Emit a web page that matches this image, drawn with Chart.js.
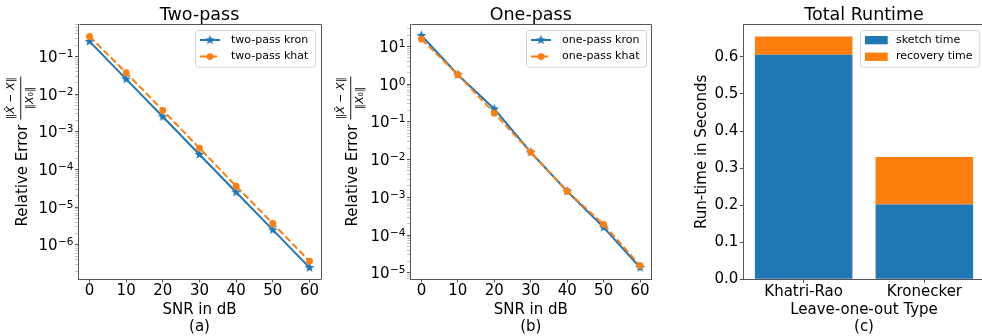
<!DOCTYPE html>
<html>
<head>
<meta charset="utf-8">
<script src="https://cdn.jsdelivr.net/npm/chart.js@4.4.1/dist/chart.umd.min.js"></script>
<style>
  html, body { margin: 0; padding: 0; background: #fff; overflow: hidden; width: 982px; height: 336px; }
  canvas { position: absolute; top: 0; }
</style>
</head>
<body>
<canvas id="twoPass" width="330" height="336" style="left:0px"></canvas>
<canvas id="onePass" width="330" height="336" style="left:330px"></canvas>
<canvas id="runtime" width="330" height="336" style="left:660px"></canvas>
<script>
// data
const snr = [0, 10, 20, 30, 40, 50, 60];
const twoPassKron = [0.25, 0.025, 0.0025, 2.5e-4, 2.5e-5, 2.5e-6, 2.5e-7];
const twoPassKhat = [0.34, 0.037, 0.0037, 3.7e-4, 3.6e-5, 3.7e-6, 3.7e-7];
const onePassKron = [19.5, 1.78, 0.22, 0.0157, 1.45e-3, 1.6e-4, 1.38e-5];
const onePassKhat = [15.6, 1.78, 0.17, 0.0157, 1.45e-3, 1.92e-4, 1.55e-5];
const loaTypes = ["Khatri-Rao", "Kronecker"];
const sketchTime = [0.606, 0.202];
const recoveryTime = [0.049, 0.128];

const BLUE = "#1f77b4";
const ORANGE = "#ff7f0e";
const AXIS = "#555";
const FONT = "'DejaVu Sans'";

Chart.defaults.font.family = FONT + ", sans-serif";
Chart.defaults.color = "#000";

function makeStar(color, r) {
  const c = document.createElement("canvas");
  const s = Math.ceil(r * 2 + 2);
  c.width = s; c.height = s;
  const g = c.getContext("2d");
  g.translate(s / 2, s / 2);
  g.beginPath();
  for (let k = 0; k < 10; k++) {
    const rad = k % 2 === 0 ? r : r * 0.42;
    const a = -Math.PI / 2 + k * Math.PI / 5;
    g.lineTo(rad * Math.cos(a), rad * Math.sin(a));
  }
  g.closePath();
  g.fillStyle = color;
  g.fill();
  return c;
}
const starImg = makeStar(BLUE, 5.2);

function isPow10(v) {
  const e = Math.log10(v);
  return Math.abs(e - Math.round(e)) < 1e-9;
}

// frame on top/right like matplotlib's box
const frame = {
  id: "frame",
  afterDraw(chart) {
    const { ctx, chartArea: a } = chart;
    ctx.save();
    ctx.strokeStyle = AXIS;
    ctx.lineWidth = 1;
    ctx.beginPath();
    ctx.moveTo(Math.round(a.left) + 0.5, Math.round(a.top) + 0.5);
    ctx.lineTo(Math.round(a.right) + 0.5, Math.round(a.top) + 0.5);
    ctx.lineTo(Math.round(a.right) + 0.5, Math.round(a.bottom) + 0.5);
    ctx.stroke();
    ctx.restore();
  }
};

// 10^n labels with a real raised exponent, drawn at the scale's tick pixels
const powTicks = {
  id: "powTicks",
  afterDraw(chart) {
    const { ctx, chartArea: a } = chart;
    const scale = chart.scales.y;
    const xr = a.left - 3.5 - 1.5;
    ctx.save();
    ctx.fillStyle = "#000";
    ctx.textAlign = "right";
    ctx.textBaseline = "alphabetic";
    scale.ticks.forEach(t => {
      if (!isPow10(t.value)) return;
      const e = Math.round(Math.log10(t.value));
      const py = scale.getPixelForValue(t.value);
      const exp = String(e).replace("-", "\u2212");
      ctx.font = "10.5px " + FONT;
      const ew = ctx.measureText(exp).width;
      ctx.fillText(exp, xr, py + 0.5);
      ctx.font = "15px " + FONT;
      ctx.fillText("10", xr - ew - 0.5, py + 5.5);
    });
    ctx.restore();
  }
};

// legend box inside the axes, upper right
const boxLegend = {
  id: "boxLegend",
  afterDatasetsDraw(chart, args, opts) {
    const { ctx, chartArea: a } = chart;
    const w = opts.width || 120, h = 36.7;
    const x = Math.round(a.right - 5.5 - w), y = Math.round(a.top + 6);
    ctx.save();
    ctx.fillStyle = "rgba(255,255,255,0.85)";
    ctx.strokeStyle = "#d2d2d2";
    ctx.lineWidth = 1;
    ctx.beginPath();
    ctx.roundRect(x + 0.5, y + 0.5, w, h, 3);
    ctx.fill();
    ctx.stroke();
    chart.data.datasets.forEach((ds, i) => {
      const cy = y + 10 + i * 16.6;
      if (opts.bars) {
        ctx.fillStyle = ds.backgroundColor;
        ctx.fillRect(x + 5, cy - 4, 22.7, 8.3);
      } else {
        ctx.strokeStyle = ds.borderColor;
        ctx.lineWidth = ds.borderWidth;
        ctx.setLineDash(ds.borderDash || []);
        ctx.beginPath();
        ctx.moveTo(x + 5, cy);
        ctx.lineTo(x + 25, cy);
        ctx.stroke();
        ctx.setLineDash([]);
        if (ds.pointStyle instanceof HTMLCanvasElement) {
          ctx.drawImage(ds.pointStyle, x + 15 - ds.pointStyle.width / 2, cy - ds.pointStyle.height / 2);
        } else {
          ctx.fillStyle = ds.pointBackgroundColor;
          ctx.beginPath();
          ctx.arc(x + 15, cy, ds.pointRadius, 0, Math.PI * 2);
          ctx.fill();
        }
      }
      ctx.fillStyle = "#000";
      ctx.font = "11px " + FONT;
      ctx.textAlign = "left";
      ctx.textBaseline = "middle";
      ctx.fillText(ds.label, x + 36, cy);
    });
    ctx.restore();
  }
};

// "Relative Error ||X^-X|| / ||X0||" rotated y label
function drawSegs(ctx, segs, cu, v) {
  let total = 0;
  segs.forEach(s => { ctx.font = s[1]; total += ctx.measureText(s[0]).width; });
  let u = cu - total / 2;
  segs.forEach(s => {
    ctx.font = s[1];
    ctx.fillText(s[0], u, v);
    u += ctx.measureText(s[0]).width;
  });
}
const relErrLabel = {
  id: "relErrLabel",
  afterDraw(chart) {
    const { ctx, chartArea: a } = chart;
    const cy = (a.top + a.bottom) / 2;
    ctx.save();
    ctx.translate(0, cy);
    ctx.rotate(-Math.PI / 2);
    ctx.fillStyle = "#000";
    ctx.textAlign = "left";
    ctx.textBaseline = "alphabetic";
    ctx.font = "15px " + FONT;
    const main = "Relative Error";
    const mw = ctx.measureText(main).width;
    const fracW = 43, gap = 5;
    const u0 = -(mw + gap + fracW) / 2;
    ctx.fillText(main, u0, 26.5);
    const fu = u0 + mw + gap;
    ctx.fillRect(fu, 20.3, fracW, 0.9);
    const up = "11px " + FONT, it = "italic 11px " + FONT;
    drawSegs(ctx, [["\u2016", up], ["X\u0302", it], [" \u2212 ", up], ["X", it], ["\u2016", up]], fu + fracW / 2, 14);
    drawSegs(ctx, [["\u2016", up], ["X", it], ["\u2080", up], ["\u2016", up]], fu + fracW / 2, 33);
    ctx.restore();
  }
};

function lineChart(id, title, sub, kron, khat, names, yMin, yMax, yWidth, padRight) {
  const kronPts = snr.map((x, i) => ({ x: x, y: kron[i] }));
  const khatPts = snr.map((x, i) => ({ x: x, y: khat[i] }));
  return new Chart(document.getElementById(id), {
    type: "line",
    data: {
      datasets: [
        {
          label: names[0], data: kronPts, borderColor: BLUE, backgroundColor: BLUE,
          borderWidth: 2, pointStyle: starImg, pointRadius: 5, order: 1
        },
        {
          label: names[1], data: khatPts, borderColor: ORANGE, backgroundColor: ORANGE,
          pointBackgroundColor: ORANGE, pointBorderWidth: 0, borderWidth: 2,
          borderDash: [7, 3], pointStyle: "circle", pointRadius: 3.4, order: 0
        }
      ]
    },
    options: {
      responsive: false,
      animation: false,
      devicePixelRatio: 1,
      layout: { padding: { left: 0, right: padRight, top: 0, bottom: 0 } },
      plugins: {
        legend: { display: false },
        tooltip: { enabled: false },
        title: {
          display: true, text: title, color: "#000", fullSize: false,
          font: { size: 17.5, weight: "normal", lineHeight: 1 },
          padding: { top: 6.5, bottom: 0 }
        },
        boxLegend: { width: 120 }
      },
      scales: {
        x: {
          type: "linear", min: -3, max: 63, bounds: "data",
          afterBuildTicks: s => { s.ticks = snr.map(v => ({ value: v })); },
          afterFit: s => { s.height = 57; },
          grid: { drawOnChartArea: false, tickLength: 3.5, tickColor: AXIS },
          border: { color: AXIS, width: 1 },
          ticks: { font: { size: 15 }, padding: 0, maxRotation: 0, autoSkip: false },
          title: {
            display: true, text: ["SNR in dB", sub], color: "#000",
            font: { size: 15, lineHeight: 1.15 }, padding: { top: 0, bottom: 0 }
          }
        },
        y: {
          type: "logarithmic", min: yMin, max: yMax, bounds: "data",
          afterBuildTicks: s => {
            const lo = Math.floor(Math.log10(s.min)), hi = Math.ceil(Math.log10(s.max));
            const t = [];
            for (let e = lo; e <= hi; e++) {
              for (let k = 1; k < 10; k++) {
                const v = k * Math.pow(10, e);
                if (v >= s.min && v <= s.max) t.push({ value: v });
              }
            }
            s.ticks = t;
          },
          afterFit: s => { s.width = yWidth; },
          grid: {
            drawOnChartArea: false, tickLength: 3.5,
            tickColor: c => (c.tick && isPow10(c.tick.value) ? AXIS : "#9a9a9a"),
            tickWidth: c => (c.tick && isPow10(c.tick.value) ? 1 : 0.6)
          },
          border: { color: AXIS, width: 1 },
          ticks: { display: false, autoSkip: false }
        }
      }
    },
    plugins: [frame, boxLegend, relErrLabel, powTicks]
  });
}

lineChart("twoPass", "Two-pass", "(a)", twoPassKron, twoPassKhat,
  ["two-pass kron", "two-pass khat"], Math.pow(10, -6.905), Math.pow(10, -0.14), 78.5, 9.5);
lineChart("onePass", "One-pass", "(b)", onePassKron, onePassKhat,
  ["one-pass kron", "one-pass khat"], Math.pow(10, -5.165), Math.pow(10, 1.595), 80.5, 9);

new Chart(document.getElementById("runtime"), {
  type: "bar",
  data: {
    labels: loaTypes,
    datasets: [
      { label: "sketch time", data: sketchTime, backgroundColor: BLUE, borderWidth: 0 },
      { label: "recovery time", data: recoveryTime, backgroundColor: ORANGE, borderWidth: 0 }
    ]
  },
  options: {
    responsive: false,
    animation: false,
    devicePixelRatio: 1,
    layout: { padding: { left: 0, right: 5.3, top: 0, bottom: 0 } },
    datasets: { bar: { categoryPercentage: 1, barPercentage: 0.808 } },
    plugins: {
      legend: { display: false },
      tooltip: { enabled: false },
      title: {
        display: true, text: "Total Runtime", color: "#000", fullSize: false,
        font: { size: 17.5, weight: "normal", lineHeight: 1 },
        padding: { top: 6.8, bottom: 0 }
      },
      boxLegend: { width: 119.3, bars: true }
    },
    scales: {
      x: {
        stacked: true,
        afterFit: s => { s.height = 56.7; },
        grid: { drawOnChartArea: false, offset: false, tickLength: 3.5, tickColor: AXIS },
        border: { color: AXIS, width: 1 },
        ticks: { font: { size: 15 }, padding: 0, maxRotation: 0, autoSkip: false },
        title: {
          display: true, text: ["Leave-one-out Type", "(c)"], color: "#000",
          font: { size: 15, lineHeight: 1.15 }, padding: { top: 0, bottom: 0 }
        }
      },
      y: {
        stacked: true, min: 0, max: 0.688, bounds: "data",
        afterBuildTicks: s => { s.ticks = [0, 0.1, 0.2, 0.3, 0.4, 0.5, 0.6].map(v => ({ value: v })); },
        afterFit: s => { s.width = 83.3; },
        grid: { drawOnChartArea: false, tickLength: 3.5, tickColor: AXIS },
        border: { color: AXIS, width: 1 },
        ticks: { font: { size: 15 }, padding: 1.5, callback: v => v.toFixed(1) },
        title: {
          display: true, text: "Run-time in Seconds", color: "#000",
          font: { size: 15 }, padding: { top: 33.3, bottom: 0 }
        }
      }
    }
  },
  plugins: [frame, boxLegend]
});
</script>
</body>
</html>
